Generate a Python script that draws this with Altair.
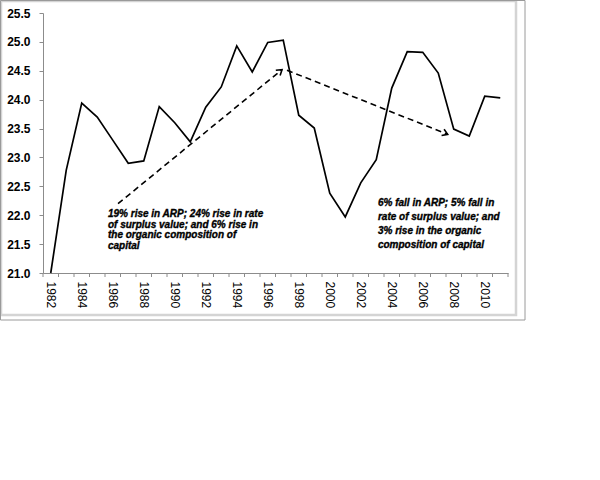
import math
import altair as alt
import pandas as pd

# ---- data ----
years = list(range(1982, 2012))
arp = [21.00, 22.78, 23.94, 23.70, 23.30, 22.90, 22.94, 23.88, 23.60, 23.27,
       23.87, 24.22, 24.93, 24.48, 24.99, 25.03, 23.73, 23.51, 22.38, 21.97,
       22.56, 22.96, 24.20, 24.83, 24.82, 24.46, 23.49, 23.37, 24.06, 24.03]
y_tick_values = [21.0, 21.5, 22.0, 22.5, 23.0, 23.5, 24.0, 24.5, 25.0, 25.5]
x_label_years = list(range(1982, 2011, 2))

arrow_x_start = [1986.34, 1997.24]
arrow_y_start = [22.20, 24.51]
arrow_x_end = [1996.92, 2007.61]
arrow_y_end = [24.52, 23.40]

note1 = ("19% rise in ARP; 24% rise in rate\nof surplus value; and 6% rise in\n"
         "the organic composition of\ncapital")
note2 = ("6% fall in ARP; 5% fall in\nrate of surplus value; and\n"
         "3% rise in the organic\ncomposition of capital")
note_x = [1985.69, 2003.11]
note_y = [22.11, 22.30]

# ---- layout ----
W, H = 465, 260
x_dom = [years[0] - 0.5, years[-1] + 0.5]
y_dom = [y_tick_values[0], y_tick_values[-1]]
xs = alt.Scale(domain=x_dom, nice=False, zero=False)
ys = alt.Scale(domain=y_dom, nice=False, zero=False)
FONT = "Liberation Sans"
NOTE_FONT = "Liberation Sans Narrow, Liberation Sans"

x_axis = alt.Axis(values=x_label_years, format="d", labelAngle=90,
                  ticks=False, grid=False, labelPadding=8,
                  domainColor="#8c8c8c", labelFont=FONT, labelFontSize=12,
                  labelColor="black", labelFlush=False, labelOverlap=False)
y_axis = alt.Axis(values=y_tick_values, format=".1f", grid=False,
                  tickSize=4, tickColor="#8c8c8c", domainColor="#8c8c8c",
                  labelPadding=9, labelFont=FONT, labelFontSize=12,
                  labelFontWeight="bold", labelColor="black",
                  labelFlush=False, labelOverlap=False)

df = pd.DataFrame({"year": years, "arp": arp})
edges = pd.DataFrame({"edge": [y - 0.5 for y in years] + [years[-1] + 0.5]})

px_per_x = W / (x_dom[1] - x_dom[0])
px_per_y = H / (y_dom[1] - y_dom[0])
angles = []
for xa, ya, xb, yb in zip(arrow_x_start, arrow_y_start, arrow_x_end, arrow_y_end):
    dx = (xb - xa) * px_per_x
    dy = -(yb - ya) * px_per_y
    angles.append(math.degrees(math.atan2(dy, dx)) % 360)
arrows = pd.DataFrame({"x0": arrow_x_start, "y0": arrow_y_start,
                       "x1": arrow_x_end, "y1": arrow_y_end, "ang": angles})

# outer frame (decoration)
frame_outer = alt.Chart(pd.DataFrame({"k": [0]})).mark_rect(
    fill=None, stroke="#9a9a9a", strokeWidth=1
).encode(x=alt.value(-42.5), x2=alt.value(482), y=alt.value(-12.5), y2=alt.value(307))
frame_inner = alt.Chart(pd.DataFrame({"k": [0]})).mark_rect(
    fill=None, stroke="#d4d4d4", strokeWidth=2.5
).encode(x=alt.value(-42), x2=alt.value(473), y=alt.value(-12), y2=alt.value(302))

line = alt.Chart(df).mark_line(color="black", strokeWidth=1.7).encode(
    x=alt.X("year:Q", scale=xs, title=None, axis=x_axis),
    y=alt.Y("arp:Q", scale=ys, title=None, axis=y_axis),
)

xticks = alt.Chart(edges).mark_rule(color="#8c8c8c", strokeWidth=1).encode(
    x=alt.X("edge:Q", scale=xs, title=None, axis=x_axis),
    y=alt.value(H), y2=alt.value(H + 4),
)

dash = alt.Chart(arrows).mark_rule(color="black", strokeWidth=1.6,
                                   strokeDash=[6, 4]).encode(
    x=alt.X("x0:Q", scale=xs, title=None, axis=x_axis),
    y=alt.Y("y0:Q", scale=ys, title=None, axis=y_axis),
    x2="x1:Q", y2="y1:Q",
)
heads = alt.Chart(arrows).mark_point(
    shape="M -1 -0.65 L 0 0 L -1 0.65", filled=False, color="black",
    strokeWidth=1.6, size=110, opacity=1
).encode(
    x=alt.X("x1:Q", scale=xs, title=None, axis=x_axis),
    y=alt.Y("y1:Q", scale=ys, title=None, axis=y_axis),
    angle=alt.Angle("ang:Q", scale=None),
)

t1 = alt.Chart(pd.DataFrame({"t": [note1], "x": [note_x[0]], "y": [note_y[0]]})).mark_text(
    align="left", baseline="top", lineBreak="\n", lineHeight=10.8,
    font=NOTE_FONT, fontSize=10, fontStyle="italic", fontWeight="bold", color="black",
    stroke="black", strokeWidth=0.35
).encode(x=alt.X("x:Q", scale=xs, title=None, axis=x_axis),
         y=alt.Y("y:Q", scale=ys, title=None, axis=y_axis), text="t:N")

t2 = alt.Chart(pd.DataFrame({"t": [note2], "x": [note_x[1]], "y": [note_y[1]]})).mark_text(
    align="left", baseline="top", lineBreak="\n", lineHeight=14,
    font=NOTE_FONT, fontSize=10, fontStyle="italic", fontWeight="bold", color="black",
    stroke="black", strokeWidth=0.35
).encode(x=alt.X("x:Q", scale=xs, title=None, axis=x_axis),
         y=alt.Y("y:Q", scale=ys, title=None, axis=y_axis), text="t:N")

chart = alt.layer(line, frame_inner, frame_outer, xticks, dash, heads, t1, t2).properties(
    width=W, height=H,
    padding={"left": 43, "top": 13, "right": 92, "bottom": 207},
    autosize=alt.AutoSizeParams(type="none"),
    background="white",
).configure_view(stroke=None)

chart.save("out.html", embed_options={"renderer": "svg", "actions": False})
